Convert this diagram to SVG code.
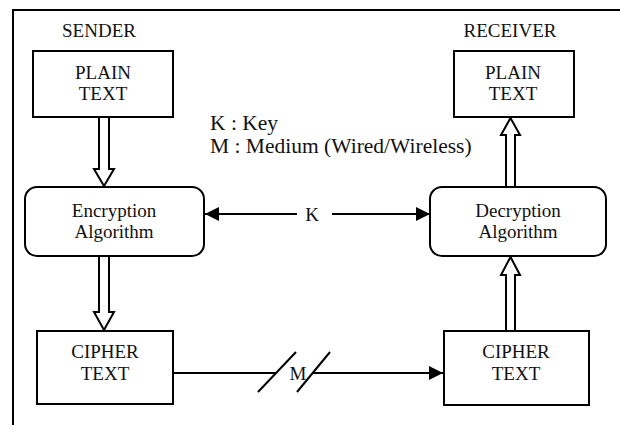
<svg xmlns="http://www.w3.org/2000/svg" width="620" height="425" viewBox="0 0 620 425">
<style>
.box{fill:#fff;stroke:#000;stroke-width:2}
.dbl{fill:#fff;stroke:#000;stroke-width:2;stroke-linejoin:miter}
.ln{stroke:#000;stroke-width:2;fill:none}
</style>
<defs>
<marker id="ah" markerUnits="userSpaceOnUse" markerWidth="16" markerHeight="14" refX="14" refY="7" orient="auto">
<path d="M0,0 L14,7 L0,14 Z" fill="#000"/>
</marker>
</defs>
<g font-family="Liberation Serif, serif" font-size="19" fill="#111" text-anchor="middle">
<rect x="13" y="10" width="700" height="500" fill="none" stroke="#000" stroke-width="2"/>
<text x="99" y="37">SENDER</text>
<text x="510" y="37">RECEIVER</text>
<text x="210" y="130" font-size="21.5" text-anchor="start">K : Key</text>
<text x="210" y="153" font-size="21.5" text-anchor="start">M : Medium (Wired/Wireless)</text>
<g id="connectors">
<path class="dbl" d="M99,117 L99,169 L94,169 L104,186 L114,169 L109,169 L109,117"/>
<path class="dbl" d="M99,256 L99,312 L94,312 L104,330 L114,312 L109,312 L109,256"/>
<path class="dbl" d="M506,331 L506,275 L501,275 L510.5,257 L520,275 L515,275 L515,331"/>
<path class="dbl" d="M506,187 L506,135 L501,135 L510.5,118 L520,135 L515,135 L515,187"/>
<line class="ln" x1="297" y1="214" x2="205" y2="214" marker-end="url(#ah)"/>
<line class="ln" x1="332" y1="214" x2="430" y2="214" marker-end="url(#ah)"/>
<text x="312" y="221">K</text>
<line class="ln" x1="173" y1="373" x2="276" y2="373"/>
<line class="ln" x1="258" y1="392" x2="296" y2="352"/>
<line class="ln" x1="297" y1="392" x2="330" y2="352"/>
<line class="ln" x1="313" y1="373" x2="443" y2="373" marker-end="url(#ah)"/>
<text x="298" y="380">M</text>
</g>
<g id="plain-sender">
<rect class="box" x="33" y="51" width="140" height="66"/>
<text x="103" y="79">PLAIN</text>
<text x="103" y="100">TEXT</text>
</g>
<g id="encryption">
<rect class="box" x="25" y="187" width="179" height="69" rx="12"/>
<text x="114" y="217">Encryption</text>
<text x="114" y="238">Algorithm</text>
</g>
<g id="cipher-sender">
<rect class="box" x="37" y="331" width="136" height="73"/>
<text x="105" y="358">CIPHER</text>
<text x="105" y="380">TEXT</text>
</g>
<g id="plain-receiver">
<rect class="box" x="454" y="51" width="120" height="66"/>
<text x="513" y="79">PLAIN</text>
<text x="513" y="100">TEXT</text>
</g>
<g id="decryption">
<rect class="box" x="430" y="187" width="176" height="69" rx="12"/>
<text x="518" y="217">Decryption</text>
<text x="518" y="238">Algorithm</text>
</g>
<g id="cipher-receiver">
<rect class="box" x="444" y="331" width="145" height="74"/>
<text x="516" y="358">CIPHER</text>
<text x="516" y="380">TEXT</text>
</g>
</g>
</svg>
